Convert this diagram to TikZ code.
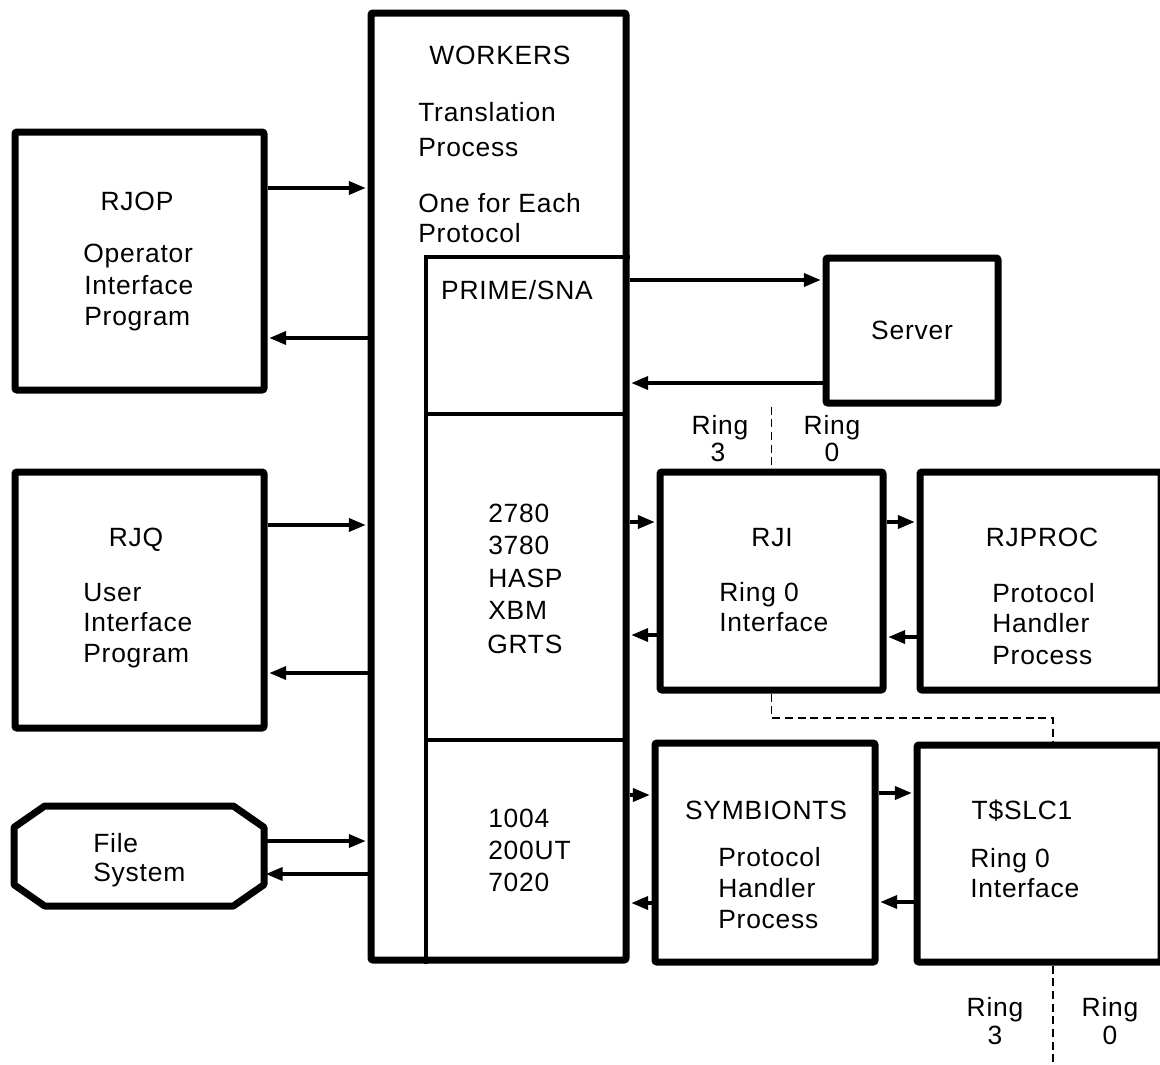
\documentclass[tikz,border=0pt]{standalone}
\usepackage{fontspec}
\setmainfont[LetterSpace=3]{Liberation Sans}
\usetikzlibrary{arrows.meta,fit}
\begin{document}
\begin{tikzpicture}[x=0.75pt,y=-0.75pt,
  box/.style={draw, line width=5.25pt, rounded corners=1.5pt, inner sep=0pt},
  thinline/.style={line width=2.6pt},
  arr/.style={line width=3.3pt, -{Triangle[length=13pt,width=9.5pt]}, shorten >=1pt},
  ringline/.style={line width=1.4pt, dash pattern=on 6pt off 3.5pt},
  lt/.style={anchor=base west, inner sep=0pt},
  ct/.style={anchor=base, inner sep=0pt},
  font=\fontsize{19.8}{23.6}\selectfont]
\useasboundingbox (0,0) rectangle (1160,1064);
\clip (0,0) rectangle (1160,1064);

% boxes
\node[box, fit={(15,132) (264,390)}] (rjop) {};
\node[box, fit={(15,472) (264,728)}] (rjq) {};
\node[inner sep=0pt, outer sep=0pt, fit={(14,806) (264,906)}] (fs) {};
\draw[line width=5.25pt, line join=round]
  ([xshift=23pt]fs.north west) -- ([xshift=-23pt]fs.north east)
  -- ([yshift=-16pt]fs.north east) -- ([yshift=16pt]fs.south east)
  -- ([xshift=-23pt]fs.south east) -- ([xshift=23pt]fs.south west)
  -- ([yshift=16pt]fs.south west) -- ([yshift=-16pt]fs.north west) -- cycle;
\node[box, fit={(371,13) (626,960)}] (workers) {};
\coordinate (inTL) at (426,257);
\draw[thinline] (inTL -| workers.east) -- (inTL) -- (inTL |- workers.south);
\draw[thinline] (426,414) -- (626,414);
\draw[thinline] (426,740) -- (626,740);
\node[box, fit={(826,258) (998,403)}] (server) {};
\node[box, fit={(660,472) (883,690)}] (rji) {};
\node[box, fit={(920,472) (1161,690)}] (rjproc) {};
\node[box, fit={(655,743) (875,962)}] (symb) {};
\node[box, fit={(917,745) (1161,962)}] (tslc) {};

% texts
\node[ct] (t1) at (137,210) {RJOP};
\node[lt] (t2) at (83,262) {Operator};
\node[lt] (t3) at (84,294) {Interface};
\node[lt] (t4) at (84,325) {Program};
\node[ct] (t5) at (136,546) {RJQ};
\node[lt] (t6) at (83,601) {User};
\node[lt] (t7) at (83,631) {Interface};
\node[lt] (t8) at (83,662) {Program};
\node[lt] (t9) at (93,852) {File};
\node[lt] (t10) at (93,881) {System};
\node[ct] (t11) at (500,64) {WORKERS};
\node[lt] (t12) at (418,121) {Translation};
\node[lt] (t13) at (418,156) {Process};
\node[lt] (t14) at (418,212) {One for Each};
\node[lt] (t15) at (418,242) {Protocol};
\node[ct] (t16) at (517,299) {PRIME/SNA};
\node[lt] (t17) at (488,522) {2780};
\node[lt] (t18) at (488,554) {3780};
\node[lt] (t19) at (488,587) {HASP};
\node[lt] (t20) at (488,619) {XBM};
\node[lt] (t21) at (487,653) {GRTS};
\node[lt] (t22) at (488,827) {1004};
\node[lt] (t23) at (488,859) {200UT};
\node[lt] (t24) at (488,891) {7020};
\node[ct] (t25) at (912,339) {Server};
\node[ct] (t26) at (720,434) {Ring};
\node[ct] (t27) at (718,461) {3};
\node[ct] (t28) at (832,434) {Ring};
\node[ct] (t29) at (832,461) {0};
\node[ct] (t30) at (772,546) {RJI};
\node[lt] (t31) at (719,601) {Ring 0};
\node[lt] (t32) at (719,631) {Interface};
\node[ct] (t33) at (1042,546) {RJPROC};
\node[lt] (t34) at (992,602) {Protocol};
\node[lt] (t35) at (992,632) {Handler};
\node[lt] (t36) at (992,664) {Process};
\node[ct] (t37) at (766,819) {SYMBIONTS};
\node[lt] (t38) at (718,866) {Protocol};
\node[lt] (t39) at (718,897) {Handler};
\node[lt] (t40) at (718,928) {Process};
\node[ct] (t41) at (1022,819) {T\$SLC1};
\node[lt] (t42) at (970,867) {Ring 0};
\node[lt] (t43) at (970,897) {Interface};
\node[ct] (t44) at (995,1016) {Ring};
\node[ct] (t45) at (995,1044) {3};
\node[ct] (t46) at (1110,1016) {Ring};
\node[ct] (t47) at (1110,1044) {0};

% arrows
\draw[arr] (rjop.east |- 0,188) -- (workers.west |- 0,188);
\draw[arr] (workers.west |- 0,338) -- (rjop.east |- 0,338);
\draw[arr] (rjq.east |- 0,525) -- (workers.west |- 0,525);
\draw[arr] (workers.west |- 0,673) -- (rjq.east |- 0,673);
\draw[arr] (fs.east |- 0,841) -- (workers.west |- 0,841);
\draw[arr] (workers.west |- 0,874) -- (fs.east |- 0,874);
\draw[arr] (workers.east |- 0,280) -- (server.west |- 0,280);
\draw[arr] (server.west |- 0,383) -- (workers.east |- 0,383);
\draw[arr] (workers.east |- 0,522) -- (rji.west |- 0,522);
\draw[arr] (rji.west |- 0,635) -- (workers.east |- 0,635);
\draw[arr] (rji.east |- 0,522) -- (rjproc.west |- 0,522);
\draw[arr] (rjproc.west |- 0,637) -- (rji.east |- 0,637);
\draw[arr] (workers.east |- 0,795) -- (symb.west |- 0,795);
\draw[arr] (symb.west |- 0,903) -- (workers.east |- 0,903);
\draw[arr] (symb.east |- 0,793) -- (tslc.west |- 0,793);
\draw[arr] (tslc.west |- 0,902) -- (symb.east |- 0,902);

% ring boundaries
\coordinate (dm) at (1053,718);
\draw[ringline] (server.south -| rji.north) -- (rji.north);
\draw[ringline] (rji.south) |- (dm) -- (dm |- tslc.north);
\draw[ringline] (tslc.south -| dm) -- (dm |- 0,1070);
\end{tikzpicture}
\end{document}
